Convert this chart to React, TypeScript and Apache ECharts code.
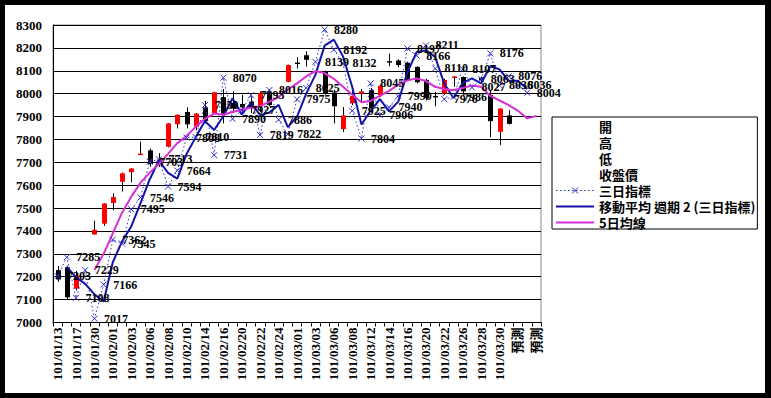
import React, { useEffect, useRef } from "react";
import * as echarts from "echarts";

const dates = [
  "101/01/13", "101/01/16", "101/01/17", "101/01/18", "101/01/30", "101/01/31", "101/02/01", "101/02/02",
  "101/02/03", "101/02/04", "101/02/06", "101/02/07", "101/02/08", "101/02/09", "101/02/10", "101/02/13",
  "101/02/14", "101/02/15", "101/02/16", "101/02/17", "101/02/20", "101/02/21", "101/02/22", "101/02/23",
  "101/02/24", "101/02/29", "101/03/01", "101/03/02", "101/03/03", "101/03/05", "101/03/06", "101/03/07",
  "101/03/08", "101/03/09", "101/03/12", "101/03/13", "101/03/14", "101/03/15", "101/03/16", "101/03/19",
  "101/03/20", "101/03/21", "101/03/22", "101/03/23", "101/03/26", "101/03/27", "101/03/28", "101/03/29",
  "101/03/30", "預測", "預測", "預測", "預測",
];

const opens = [7229, 7241, 7148, null, 7385, 7432, 7522, 7615, 7657, 7733, 7752, 7690, 7768, 7866, 7920, 7855, 7940, 7915, 7985, 7960, 7955, 7965, 7945, 7995, null, 8052, 8136, 8168, null, 8095, 8005, 7845, 7958, 8000, 8015, 7993, 8142, 8145, 8135, 8117, 8060, 7990, 8000, 8070, 8073, null, 8070, 7995, 7833, 7905, null, null, null];
const closes = [7188, 7110, 7205, null, 7405, 7520, 7548, 7652, 7673, 7738, 7692, 7712, 7870, 7908, 7866, 7913, 7880, 8006, 7912, 7935, 7940, 7940, 8003, 7950, null, 8125, 8134, 8148, null, 8000, 7945, 7905, 7990, 8010, 7935, 8035, 8138, 8125, 8060, 8050, 7980, 7988, 8060, 8075, 8010, null, 8058, 7880, 7935, 7868, null, null, null];
const lows = [7178, 7098, 7140, null, 7383, 7422, 7490, 7572, 7612, 7733, 7680, 7680, 7765, 7848, 7848, 7840, 7870, 7912, 7870, 7915, 7920, 7915, 7920, 7945, null, 8050, 8110, 8118, null, 7995, 7870, 7832, 7950, 7960, 7925, 7985, 8120, 8115, 8055, 8045, 7970, 7945, 7995, 8030, 7995, null, 8050, 7810, 7775, 7865, null, null, null];
const highs = [7247, 7248, 7225, null, 7445, 7522, 7565, 7655, 7674, 7790, 7760, 7740, 7872, 7910, 7940, 7915, 7968, 8008, 8020, 8010, 7995, 7990, 8010, 8020, null, 8127, 8160, 8185, null, 8100, 8015, 7942, 8010, 8020, 8025, 8040, 8175, 8150, 8140, 8120, 8065, 8008, 8065, 8078, 8075, null, 8075, 8015, 7936, 7928, null, null, null];

const threeDayIndex = [7203, 7285, 7108, 7229, 7017, 7166, 7362, 7345, 7495, 7546, 7703, 7713, 7594, 7664, 7808, 7810, 7950, 7731, 8070, 7890, 7927, 7993, 7819, 8016, 7886, 7822, 7975, 8025, 8139, 8280, 8192, 8132, 7925, 7804, 8045, 7906, 7940, 7990, 8197, 8166, 8211, 8110, 7976, 7986, 8107, 8027, 8063, 8176, 8036, 8076, 8036, 8004, null];

const movingAvg2 = [null, 7244, 7197, 7169, 7123, 7092, 7264, 7354, 7420, 7521, 7625, 7708, 7654, 7629, 7736, 7809, 7880, 7841, 7901, 7980, 7909, 7960, 7906, 7918, 7951, 7854, 7899, 8000, 8082, 8210, 8236, 8162, 8029, 7865, 7925, 7976, 7923, 7965, 8094, 8182, 8189, 8161, 8043, 7981, 8047, 8067, 8045, 8120, 8106, 8056, 8056, 8020, null];

const avg5 = [null, null, null, null, 7229, 7300, 7390, 7480, 7550, 7610, 7655, 7693, 7737, 7784, 7815, 7855, 7890, 7913, 7908, 7920, 7930, 7938, 7945, 7965, 7985, 8018, 8045, 8075, 8098, 8090, 8065, 8030, 7995, 7962, 7968, 7990, 8012, 8040, 8058, 8066, 8055, 8030, 8020, 8015, 8025, 8035, 8030, 7990, 7970, 7950, 7925, 7892, 7902];

const legendNames = ["開", "高", "低", "收盤價", "三日指標", "移動平均 週期 2 (三日指標)", "5日均線"];

const SERIF = "'Liberation Serif', 'Noto Sans CJK TC', serif";
const CJK = "'Noto Sans CJK TC', sans-serif";
const DOT_BLUE = "#3030cc";
const MA_BLUE = "#1212aa";
const MAGENTA = "#d630d6";

export default function App() {
  const ref = useRef<HTMLDivElement>(null);
  useEffect(() => {
    if (!ref.current) return;
    const chart = echarts.init(ref.current, null, { renderer: "svg" });
    const candleData: any[] = [];
    for (let i = 0; i < dates.length; i++) {
      if (opens[i] != null) candleData.push([i, opens[i], closes[i], lows[i], highs[i]]);
    }
    const legLeft = 547;
    const legTop = 112;
    const padTop = 3;
    const rowPitch = 16;
    const iconX1 = legLeft + 4;
    const iconX2 = iconX1 + 38;
    const rowY = (k: number) => legTop + padTop + 6.5 + rowPitch * k;
    const mid = (iconX1 + iconX2) / 2;
    const graphics: any[] = [
      {
        type: "line",
        shape: { x1: iconX1, y1: rowY(4), x2: iconX2, y2: rowY(4) },
        style: { stroke: DOT_BLUE, lineWidth: 1, lineDash: [1.5, 2.5] },
        z: 100,
      },
      {
        type: "line",
        shape: { x1: mid - 3, y1: rowY(4) - 3, x2: mid + 3, y2: rowY(4) + 3 },
        style: { stroke: DOT_BLUE, lineWidth: 1 },
        z: 100,
      },
      {
        type: "line",
        shape: { x1: mid + 3, y1: rowY(4) - 3, x2: mid - 3, y2: rowY(4) + 3 },
        style: { stroke: DOT_BLUE, lineWidth: 1 },
        z: 100,
      },
      {
        type: "line",
        shape: { x1: iconX1, y1: rowY(5), x2: iconX2, y2: rowY(5) },
        style: { stroke: MA_BLUE, lineWidth: 2 },
        z: 100,
      },
      {
        type: "line",
        shape: { x1: iconX1, y1: rowY(6), x2: iconX2, y2: rowY(6) },
        style: { stroke: MAGENTA, lineWidth: 2 },
        z: 100,
      },
    ];
    const option: any = {
      animation: false,
      backgroundColor: "#ffffff",
      grid: {
        left: 48,
        top: 20,
        right: 224,
        bottom: 70.5,
        show: true,
        borderColor: "#888888",
        borderWidth: 1,
        backgroundColor: "#ffffff",
      },
      legend: {
        orient: "vertical",
        left: legLeft,
        top: legTop,
        itemWidth: 38,
        itemHeight: 13,
        itemGap: 3,
        padding: [padTop, 2, 0, 4],
        borderColor: "#000",
        borderWidth: 1,
        backgroundColor: "#fff",
        selectedMode: false,
        textStyle: { fontSize: 13, fontFamily: CJK, fontWeight: "bold", color: "#000" },
        data: legendNames.map((n) => ({ name: n, icon: "none" })),
      },
      graphic: graphics,
      xAxis: {
        type: "category",
        data: dates,
        boundaryGap: true,
        axisLine: { lineStyle: { color: "#000", width: 1 } },
        axisTick: { show: true, interval: 0, length: 4, lineStyle: { color: "#000" } },
        axisLabel: {
          interval: 1,
          rotate: 90,
          margin: 5,
          fontSize: 13,
          fontFamily: SERIF,
          fontWeight: "bold",
          color: "#000",
        },
        splitLine: { show: false },
      },
      yAxis: {
        type: "value",
        min: 7000,
        max: 8300,
        interval: 100,
        axisLine: { show: true, lineStyle: { color: "#000" } },
        axisTick: { show: false },
        axisLabel: {
          margin: 11,
          fontSize: 13,
          fontFamily: SERIF,
          fontWeight: "bold",
          color: "#000",
          formatter: (v: number) => String(v),
        },
        splitLine: { show: true, lineStyle: { color: "#000", width: 1 } },
      },
      series: [
        {
          name: "K",
          type: "custom",
          data: candleData,
          encode: { x: 0, y: [1, 2, 3, 4] },
          renderItem: (params: any, api: any) => {
            const idx = api.value(0);
            const o = api.value(1);
            const c = api.value(2);
            const l = api.value(3);
            const h = api.value(4);
            const pO = api.coord([idx, o]);
            const pC = api.coord([idx, c]);
            const pL = api.coord([idx, l]);
            const pH = api.coord([idx, h]);
            const x = Math.round(pO[0]) + 0.5;
            const up = c >= o;
            const top = Math.min(pO[1], pC[1]);
            const hh = Math.max(Math.abs(pO[1] - pC[1]), 1.5);
            return {
              type: "group",
              children: [
                { type: "line", shape: { x1: x, y1: pH[1], x2: x, y2: pL[1] }, style: { stroke: "#000", lineWidth: 1 } },
                { type: "rect", shape: { x: x - 2.5, y: top, width: 5, height: hh }, style: { fill: up ? "#ff0000" : "#000000" } },
              ],
            };
          },
          z: 2,
        },
        { name: "開", type: "line", data: [] },
        { name: "高", type: "line", data: [] },
        { name: "低", type: "line", data: [] },
        { name: "收盤價", type: "line", data: [] },
        {
          name: "三日指標",
          type: "line",
          data: threeDayIndex,
          symbol: "path://M0,0L6,6M6,0L0,6",
          symbolSize: 6,
          showAllSymbol: true,
          lineStyle: { color: DOT_BLUE, width: 1, type: [1.5, 2.5] },
          itemStyle: { color: "rgba(0,0,0,0)", borderColor: DOT_BLUE, borderWidth: 1 },
          label: {
            show: true,
            position: "right",
            distance: 6,
            fontSize: 12,
            fontFamily: SERIF,
            fontWeight: "bold",
            color: "#000",
          },
          z: 3,
        },
        {
          name: "移動平均 週期 2 (三日指標)",
          type: "line",
          data: movingAvg2,
          symbol: "none",
          lineStyle: { color: MA_BLUE, width: 2 },
          itemStyle: { color: MA_BLUE },
          z: 3,
        },
        {
          name: "5日均線",
          type: "line",
          data: avg5,
          symbol: "none",
          lineStyle: { color: MAGENTA, width: 2 },
          itemStyle: { color: MAGENTA },
          z: 3,
        },
      ],
    };
    chart.setOption(option);
    return () => chart.dispose();
  }, []);
  return (
    <div style={{ position: "absolute", left: 0, top: 0, width: 771, height: 398, background: "#000" }}>
      <div ref={ref} style={{ position: "absolute", left: 5, top: 5, width: 760, height: 388, background: "#fff" }} />
    </div>
  );
}
